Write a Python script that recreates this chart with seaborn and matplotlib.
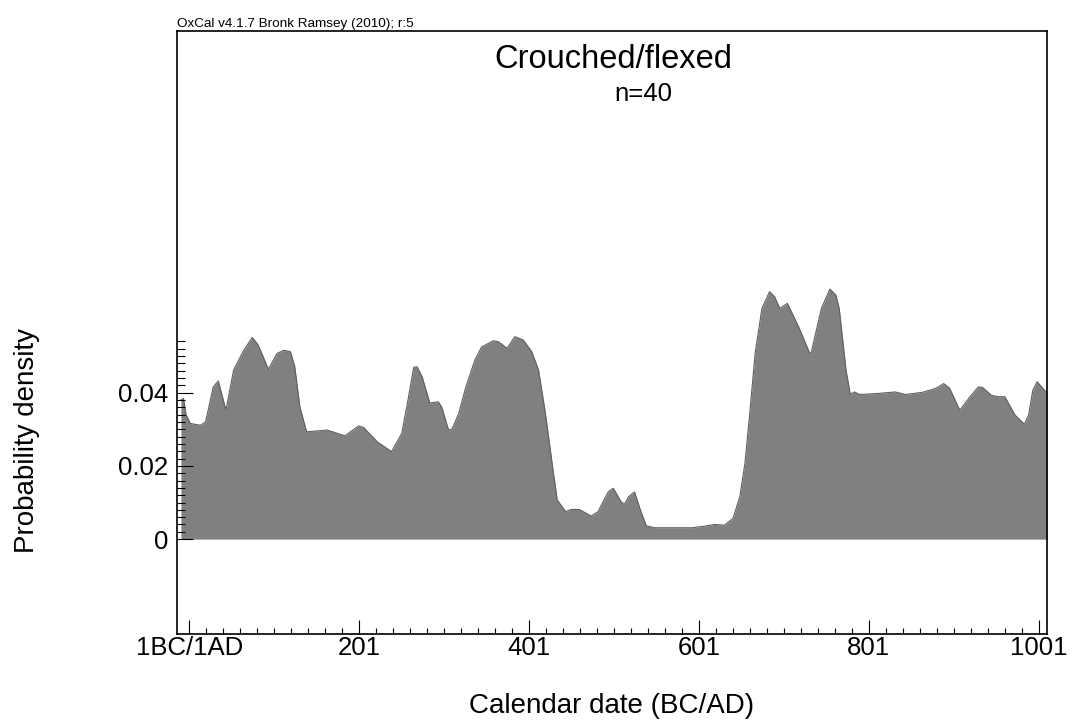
import matplotlib
matplotlib.use("Agg")
import matplotlib.pyplot as plt
import seaborn as sns
import numpy as np
import pandas as pd

# %% data
years = [-9, -6, -3, 2, 14, 20, 29, 35, 44, 53, 65, 75, 82, 94, 104, 112,
         120, 125, 131, 139, 163, 175, 184, 200, 206, 222, 239, 251, 259,
         265, 269, 275, 284, 294, 298, 306, 310, 318, 326, 337, 345, 359,
         365, 375, 384, 394, 404, 412, 420, 428, 434, 444, 450, 460, 474,
         482, 494, 500, 510, 514, 518, 525, 532, 539, 549, 593, 609, 619,
         631, 641, 649, 655, 661, 667, 675, 684, 690, 696, 705, 719, 731,
         733, 745, 755, 762, 766, 774, 779, 784, 790, 812, 832, 844, 864,
         880, 889, 896, 908, 920, 930, 935, 945, 953, 961, 973, 984, 989,
         994, 999, 1005, 1011]
density = [0.0380, 0.0384, 0.0340, 0.0316, 0.0311, 0.0320, 0.0416, 0.0432,
           0.0352, 0.0462, 0.0516, 0.0551, 0.0530, 0.0464, 0.0507, 0.0516,
           0.0512, 0.0471, 0.0361, 0.0293, 0.0298, 0.0289, 0.0282, 0.0309,
           0.0305, 0.0266, 0.0239, 0.0289, 0.0389, 0.0469, 0.0471, 0.0443,
           0.0372, 0.0375, 0.0361, 0.0298, 0.0300, 0.0343, 0.0412, 0.0489,
           0.0525, 0.0542, 0.0539, 0.0521, 0.0553, 0.0544, 0.0512, 0.0462,
           0.0345, 0.0207, 0.0107, 0.0075, 0.0081, 0.0081, 0.0063, 0.0075,
           0.0129, 0.0139, 0.0099, 0.0098, 0.0116, 0.0129, 0.0079, 0.0036,
           0.0031, 0.0031, 0.0036, 0.0040, 0.0038, 0.0057, 0.0116, 0.0207,
           0.0352, 0.0507, 0.0630, 0.0676, 0.0662, 0.0630, 0.0644, 0.0576,
           0.0509, 0.0509, 0.0630, 0.0683, 0.0667, 0.0630, 0.0462, 0.0396,
           0.0402, 0.0395, 0.0398, 0.0402, 0.0395, 0.0401, 0.0412, 0.0425,
           0.0412, 0.0352, 0.0389, 0.0416, 0.0414, 0.0393, 0.0389, 0.0389,
           0.0339, 0.0314, 0.0339, 0.0407, 0.0430, 0.0414, 0.0398]

xtick_pos = [1, 201, 401, 601, 801, 1001]
xtick_labels = ["1BC/1AD", "201", "401", "601", "801", "1001"]
ytick_pos = [0, 0.02, 0.04]
ytick_labels = ["0", "0.02", "0.04"]

df = pd.DataFrame({"year": years, "density": density})

# %% plot
sns.set_style("white")
plt.rcParams["font.family"] = ["Liberation Sans", "DejaVu Sans"]
plt.rcParams["text.color"] = "black"
plt.rcParams["axes.labelcolor"] = "black"
plt.rcParams["xtick.color"] = "black"
plt.rcParams["ytick.color"] = "black"

W, H = 1077, 725
fig = plt.figure(figsize=(W / 100, H / 100), dpi=100)
ax = fig.add_axes([176.7 / W, (H - 634.3) / H, 870.6 / W, 603.3 / H])
ax.set_axisbelow(False)

ax.fill_between(df["year"], df["density"], color="#808080", lw=0)
sns.lineplot(data=df, x="year", y="density", ax=ax, color="#5f5f5f", lw=0.8)

ax.set_xlim(-14, 1011)
ax.set_ylim(-0.026, 0.1388)

ax.set_xticks(xtick_pos)
ax.set_xticklabels(xtick_labels)
ax.set_xticks(np.arange(21, 1001, 20), minor=True)
ax.set_yticks(ytick_pos)
ax.set_yticklabels(ytick_labels)
ax.set_yticks(np.round(np.arange(0.002, 0.0545, 0.002), 3), minor=True)

ax.tick_params(axis="x", which="major", direction="in", length=10, width=0.8,
               labelsize=18.5, pad=1.5, color="black", labelcolor="black")
ax.tick_params(axis="x", which="minor", direction="in", length=4.5, width=0.8,
               color="black")
ax.tick_params(axis="y", which="major", direction="in", length=11.5, width=0.8,
               labelsize=18.5, pad=6, color="black", labelcolor="black")
ax.tick_params(axis="y", which="minor", direction="in", length=6, width=0.8,
               color="black")
ax.tick_params(left=True, bottom=True, which="both")

for s in ax.spines.values():
    s.set_color("black")
    s.set_linewidth(1.2)

ax.set_xlabel("Calendar date (BC/AD)", fontsize=20, va="center", color="black")
ax.xaxis.set_label_coords(0.5, -0.1188)
ax.set_ylabel("Probability density", fontsize=20, va="center", color="black")
ax.yaxis.set_label_coords(-0.1714, 0.322)

fig.text(177.3 / W, 1 - 27.3 / H, "OxCal v4.1.7 Bronk Ramsey (2010); r:5",
         fontsize=9.7, ha="left", va="baseline", color="black")
fig.text(613.7 / W, 1 - 67.7 / H, "Crouched/flexed", fontsize=23.5,
         ha="center", va="baseline", color="black")
fig.text(643.3 / W, 1 - 100.7 / H, "n=40", fontsize=18.5,
         ha="center", va="baseline", color="black")

fig.savefig("out.png", dpi=100)
